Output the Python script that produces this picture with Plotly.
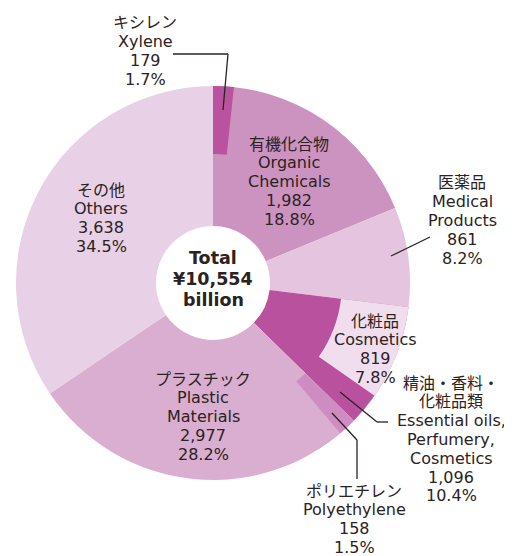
import plotly.graph_objects as go

# Main categories (clockwise from 12 o'clock), values in ¥ billion
main_jp = ['有機化合物', '医薬品', '精油・香料・\n化粧品類', 'プラスチック', 'その他']
main_en = ['Organic\nChemicals', 'Medical\nProducts', 'Essential oils,\nPerfumery,\nCosmetics',
           'Plastic\nMaterials', 'Others']
main_values = [1982, 861, 1096, 2977, 3638]

# Breakdown items shown inside their parent slice
sub_jp = ['キシレン', '化粧品', 'ポリエチレン']
sub_en = ['Xylene', 'Cosmetics', 'Polyethylene']
sub_values = [179, 819, 158]
sub_parent = [0, 2, 3]

total = sum(main_values)

# page is drawn with an 8px body margin, so work in page pixels and shift
OFF = 8
W, H = 512 - OFF, 556 - OFF
CX, CY, R = 213, 283, 197
FONT = 'DejaVu Sans, Noto Sans CJK JP, sans-serif'
TXT = '#2b2222'

main_colors = ['#CD93C0', '#E4C4DE', '#B9519E', '#DAAED0', '#E8D0E6']
sub_colors = ['#BA52A0', '#F0DEEE', '#CE8CC2']


def px(x):
    return (x - OFF) / W


def py(y):
    return 1 - (y - OFF) / H


domain = dict(x=[px(CX - R), px(CX + R)], y=[py(CY + R), py(CY - R)])

fig = go.Figure()

fig.add_trace(go.Pie(
    values=main_values,
    labels=[s.replace('\n', '') for s in main_jp],
    sort=False,
    direction='clockwise',
    rotation=0,
    hole=57 / R,
    marker=dict(colors=main_colors, line=dict(width=0)),
    textinfo='none',
    hoverinfo='label+value',
    domain=domain,
    showlegend=False,
))

# overlay ring for the breakdown items (placed at the start of each parent slice)
ov_values, ov_colors, ov_labels = [], [], []
for i, v in enumerate(main_values):
    subs = [k for k in range(len(sub_values)) if sub_parent[k] == i]
    rest = v
    for k in subs:
        ov_values.append(sub_values[k])
        ov_colors.append(sub_colors[k])
        ov_labels.append(sub_jp[k])
        rest -= sub_values[k]
    ov_values.append(rest)
    ov_colors.append('rgba(0,0,0,0)')
    ov_labels.append(' ' * (i + 1))

fig.add_trace(go.Pie(
    values=ov_values,
    labels=ov_labels,
    sort=False,
    direction='clockwise',
    rotation=0,
    hole=129 / R,
    marker=dict(colors=ov_colors, line=dict(width=0)),
    textinfo='none',
    hoverinfo='skip',
    domain=domain,
    showlegend=False,
))

# label placement (page pixel centre x, first line y)
main_pos = [(289, 144), (462, 183), (451, 383), (203, 379), (101, 190)]
sub_pos = [(145, 23), (375, 321), (354, 491)]
LH = 18.8

annotations = []


def add_label(x, y0, lines, size=16):
    for j, line in enumerate(lines):
        annotations.append(dict(
            x=px(x), y=py(y0 + j * LH), xref='paper', yref='paper',
            text=line, showarrow=False, xanchor='center', yanchor='middle',
            font=dict(family=FONT, size=size, color=TXT),
        ))


for i, v in enumerate(main_values):
    lines = main_jp[i].split('\n') + main_en[i].split('\n') + [f'{v:,}', f'{v / total * 100:.1f}%']
    add_label(*main_pos[i], lines)

for k, v in enumerate(sub_values):
    lines = [sub_jp[k], sub_en[k], f'{v:,}', f'{v / total * 100:.1f}%']
    add_label(*sub_pos[k], lines)

# centre total
for j, line in enumerate(['Total', f'¥{total:,}', 'billion']):
    annotations.append(dict(
        x=px(CX), y=py(258 + j * 21), xref='paper', yref='paper',
        text=f'<b>{line}</b>', showarrow=False, xanchor='center', yanchor='middle',
        font=dict(family=FONT, size=17.5, color=TXT),
    ))

# leader lines
leaders = [
    [(173, 54), (228, 54), (223, 110)],
    [(430, 237), (391, 256)],
    [(340, 392), (377, 422), (388, 422)],
    [(332, 413), (357, 440), (357, 479)],
]
shapes = []
for pts in leaders:
    for (x0, y0), (x1, y1) in zip(pts[:-1], pts[1:]):
        shapes.append(dict(type='line', xref='paper', yref='paper',
                           x0=px(x0), y0=py(y0), x1=px(x1), y1=py(y1),
                           line=dict(color=TXT, width=1.3)))

fig.update_layout(
    width=W, height=H,
    margin=dict(l=0, r=0, t=0, b=0),
    paper_bgcolor='white',
    plot_bgcolor='white',
    annotations=annotations,
    shapes=shapes,
    showlegend=False,
)

fig.write_html("out.html")
